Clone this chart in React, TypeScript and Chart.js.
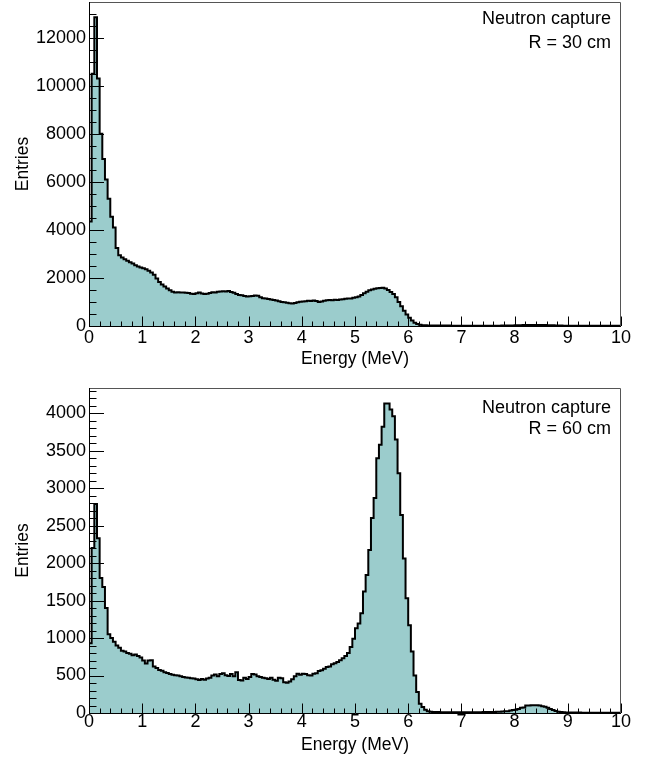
import { useEffect, useRef } from "react";
import { Chart, registerables } from "chart.js";

Chart.register(...registerables);

// ---------- data ----------
const BIN_WIDTH = 0.05; // MeV
const X_MIN = 0;
const X_MAX = 10;
const X_TICKS = [0, 1, 2, 3, 4, 5, 6, 7, 8, 9, 10];
const X_MINOR_STEP = 0.2;
const X_TITLE = "Energy (MeV)";
const Y_TITLE = "Entries";

// R = 30 cm : entries per 0.05 MeV bin
const COUNTS_30 = [
  4350, 10500, 12850, 10300, 8000, 6950, 6100, 5300, 4550, 4100,
  3250, 2950, 2850, 2780, 2720, 2650, 2600, 2530, 2480, 2440,
  2400, 2360, 2300, 2230, 2130, 1980, 1830, 1730, 1640, 1560,
  1490, 1430, 1400, 1410, 1390, 1400, 1380, 1370, 1340, 1330,
  1360, 1400, 1350, 1330, 1340, 1370, 1410, 1400, 1430, 1440,
  1450, 1440, 1460, 1420, 1380, 1330, 1290, 1280, 1250, 1230,
  1240, 1250, 1270, 1260, 1200, 1160, 1150, 1120, 1100, 1080,
  1060, 1030, 1000, 990, 970, 950, 940, 960, 990, 1010,
  1020, 1030, 1050, 1040, 1060, 1040, 1000, 1020, 1050, 1070,
  1080, 1070, 1090, 1080, 1100, 1110, 1130, 1150, 1150, 1180,
  1200, 1230, 1290, 1360, 1430, 1490, 1520, 1550, 1570, 1580,
  1590, 1560, 1500, 1420, 1330, 1200, 1000, 820, 640, 480,
  340, 230, 140, 85, 50, 35, 27, 24,
  22, 20, 19, 18, 18, 17, 16, 16, 15, 15, 15, 14, 14, 14, 13, 13,
  13, 13, 12, 12, 12, 12, 12, 13, 13, 14, 15, 16, 18, 20, 22, 25,
  28, 31, 34, 37, 40, 42, 44, 45, 45, 44, 42, 39, 35, 31, 27, 23,
  19, 16, 14, 12,
  11, 10, 10, 10, 9, 9, 9, 9, 8, 8, 8, 8, 8, 7, 7, 7, 7, 7, 7, 6,
];

// R = 60 cm : entries per 0.05 MeV bin
const COUNTS_60 = [
  930, 2200, 2790, 2330, 1800, 1680, 1400, 1050, 1000, 950,
  900, 870, 830, 820, 800, 790, 770, 780, 760, 740,
  700, 660, 700, 705, 620, 600, 575, 565, 545, 535,
  520, 510, 505, 500, 490, 480, 475, 470, 465, 460,
  450, 440, 455, 445, 460, 470, 500, 515, 490, 520,
  530, 505, 495, 520, 490, 545, 440, 435, 470, 455,
  480, 520, 515, 490, 480, 470, 465, 455, 470, 445,
  430, 470, 465, 410, 405, 420, 450, 490, 525, 510,
  525, 520, 505, 500, 525, 530, 560, 570, 590, 615,
  620, 650, 665, 680, 705, 730, 760, 800, 880, 990,
  1130, 1195, 1330, 1620, 1840, 2175, 2600, 2870, 3400, 3580,
  3820, 4130, 4130, 4050, 3960, 3650, 3200, 2640, 2060, 1530,
  1170, 820, 500, 280, 125, 80, 45, 25,
  18, 15, 13, 12, 11, 10, 10, 10, 9, 9, 9, 9, 9, 10, 10, 10,
  10, 11, 11, 11, 12, 12, 13, 14, 15, 16, 18, 20, 22,
  25, 35, 40, 45, 55, 70, 75, 100, 100, 105, 105, 105, 100, 90, 85, 70,
  55, 40, 28, 18,
  12, 9, 8, 7, 7, 6, 6, 6, 5, 5, 5, 5, 4, 4, 4, 4, 4, 4, 3, 3, 3, 3, 3,
];

const Y_TICKS_30 = [0, 2000, 4000, 6000, 8000, 10000, 12000];
const Y_TICKS_60 = [0, 500, 1000, 1500, 2000, 2500, 3000, 3500, 4000];
const LABEL_30 = ["Neutron capture", "R = 30 cm"];
const LABEL_60 = ["Neutron capture", "R = 60 cm"];

// ---------- styling ----------
const FONT_FAMILY = "'Liberation Sans', Arial, Helvetica, sans-serif";
const FILL_COLOR = "#9bcccc";
const W = 655;
const H = 380;

type Panel = {
  counts: number[];
  yTicks: number[];
  yMax: number;
  yMinor: number;
  labels: string[];
  padTop: number;
  xHeight: number;
  xTickPad: number;
  xTitlePad: number;
  labelY: number[];
};

const PANELS: Panel[] = [
  {
    counts: COUNTS_30,
    yTicks: Y_TICKS_30,
    yMax: 13490,
    yMinor: 500,
    labels: LABEL_30,
    padTop: 2,
    xHeight: 54,
    xTickPad: 3.5,
    xTitlePad: 10.8,
    labelY: [24.3, 48],
  },
  {
    counts: COUNTS_60,
    yTicks: Y_TICKS_60,
    yMax: 4336,
    yMinor: 100,
    labels: LABEL_60,
    padTop: 8,
    xHeight: 47,
    xTickPad: 0.5,
    xTitlePad: 4.5,
    labelY: [32.7, 54.3],
  },
];

const framePlugin = {
  id: "rootFrame",
  afterDatasetsDraw(chart: any, _args: any, opts: any) {
    const { ctx, chartArea: a, scales } = chart;
    const xs = scales.x;
    const ys = scales.y;
    ctx.save();
    // frame (top/right lighter)
    ctx.lineWidth = 1;
    ctx.strokeStyle = "#555";
    ctx.beginPath();
    ctx.moveTo(a.left + 0.5, a.top + 0.5);
    ctx.lineTo(a.right - 0.5, a.top + 0.5);
    ctx.lineTo(a.right - 0.5, a.bottom);
    ctx.stroke();
    // axes
    ctx.strokeStyle = "#000";
    ctx.beginPath();
    ctx.moveTo(a.left + 0.5, a.top);
    ctx.lineTo(a.left + 0.5, a.bottom + 0.5);
    ctx.lineTo(a.right, a.bottom + 0.5);
    ctx.stroke();
    // y ticks
    ctx.beginPath();
    const yMajor: number[] = opts.yTicks;
    for (let v = 0; v <= ys.max; v += opts.yMinor) {
      const py = Math.round(ys.getPixelForValue(v)) + 0.5;
      const isMajor = yMajor.includes(v);
      const len = isMajor ? 15 : 7.5;
      ctx.moveTo(a.left, py);
      ctx.lineTo(a.left + len, py);
    }
    // x ticks
    const nMinor = Math.round((X_MAX - X_MIN) / X_MINOR_STEP);
    for (let i = 0; i <= nMinor; i++) {
      const v = X_MIN + i * X_MINOR_STEP;
      const isMajor = X_TICKS.some((t) => Math.abs(t - v) < 1e-6);
      const px = Math.round(xs.getPixelForValue(v)) + 0.5;
      const len = isMajor ? 9.5 : 4.5;
      ctx.moveTo(px, a.bottom);
      ctx.lineTo(px, a.bottom - len);
    }
    ctx.stroke();
    // annotation
    ctx.fillStyle = "#000";
    ctx.font = `18px ${FONT_FAMILY}`;
    ctx.textAlign = "right";
    ctx.textBaseline = "alphabetic";
    const labels: string[] = opts.labels;
    labels.forEach((t, i) => ctx.fillText(t, 611, opts.labelY[i]));
    ctx.restore();
  },
};

function makeConfig(p: Panel): any {
  const points = p.counts.map((v, i) => ({ x: X_MIN + i * BIN_WIDTH, y: v }));
  points.push({ x: X_MAX, y: p.counts[p.counts.length - 1] });
  const tickFont = { family: FONT_FAMILY, size: 18, lineHeight: 1 };
  const titleFont = { family: FONT_FAMILY, size: 17.5, lineHeight: 1.2 };
  return {
    type: "line",
    data: {
      datasets: [
        {
          data: points,
          stepped: "before",
          borderColor: "#000",
          borderWidth: 2,
          backgroundColor: FILL_COLOR,
          fill: "origin",
          pointRadius: 0,
          tension: 0,
        },
      ],
    },
    options: {
      animation: false,
      responsive: false,
      maintainAspectRatio: false,
      events: [],
      layout: { padding: { left: 0, right: W - 621, top: p.padTop, bottom: 0 } },
      plugins: {
        legend: { display: false },
        tooltip: { enabled: false },
        rootFrame: { yTicks: p.yTicks, yMinor: p.yMinor, labels: p.labels, labelY: p.labelY },
      },
      scales: {
        x: {
          type: "linear",
          min: X_MIN,
          max: X_MAX,
          grid: { display: false, drawTicks: false },
          border: { display: false },
          afterBuildTicks: (s: any) => {
            s.ticks = X_TICKS.map((v) => ({ value: v }));
          },
          afterFit: (s: any) => {
            s.height = p.xHeight;
            s.paddingLeft = 0;
            s.paddingRight = 0;
          },
          ticks: {
            padding: p.xTickPad,
            font: tickFont,
            color: "#000",
            maxRotation: 0,
            autoSkip: false,
            includeBounds: false,
            callback: (v: any) => String(v),
          },
          title: {
            display: true,
            text: X_TITLE,
            font: titleFont,
            color: "#000",
            padding: { top: 0, bottom: p.xTitlePad },
          },
        },
        y: {
          type: "linear",
          min: 0,
          max: p.yMax,
          grid: { display: false, drawTicks: false },
          border: { display: false },
          afterBuildTicks: (s: any) => {
            s.ticks = p.yTicks.map((v) => ({ value: v }));
          },
          afterFit: (s: any) => {
            s.width = 89;
            s.paddingTop = 0;
            s.paddingBottom = 0;
          },
          ticks: {
            padding: 3,
            font: tickFont,
            color: "#000",
            autoSkip: false,
            includeBounds: false,
            callback: (v: any) => String(v),
          },
          title: {
            display: true,
            text: Y_TITLE,
            font: titleFont,
            color: "#000",
            padding: { top: 12.5, bottom: 0 },
          },
        },
      },
    },
    plugins: [framePlugin],
  };
}

function HistPanel({ panel }: { panel: Panel }) {
  const ref = useRef<HTMLCanvasElement | null>(null);
  useEffect(() => {
    if (!ref.current) return;
    const chart = new Chart(ref.current, makeConfig(panel));
    return () => chart.destroy();
  }, [panel]);
  return <canvas ref={ref} width={W} height={H} style={{ display: "block", width: W, height: H }} />;
}

export default function App() {
  return (
    <div style={{ position: "absolute", left: 0, top: 0, width: W, height: 2 * H, background: "#fff" }}>
      {PANELS.map((p, i) => (
        <HistPanel key={i} panel={p} />
      ))}
    </div>
  );
}
